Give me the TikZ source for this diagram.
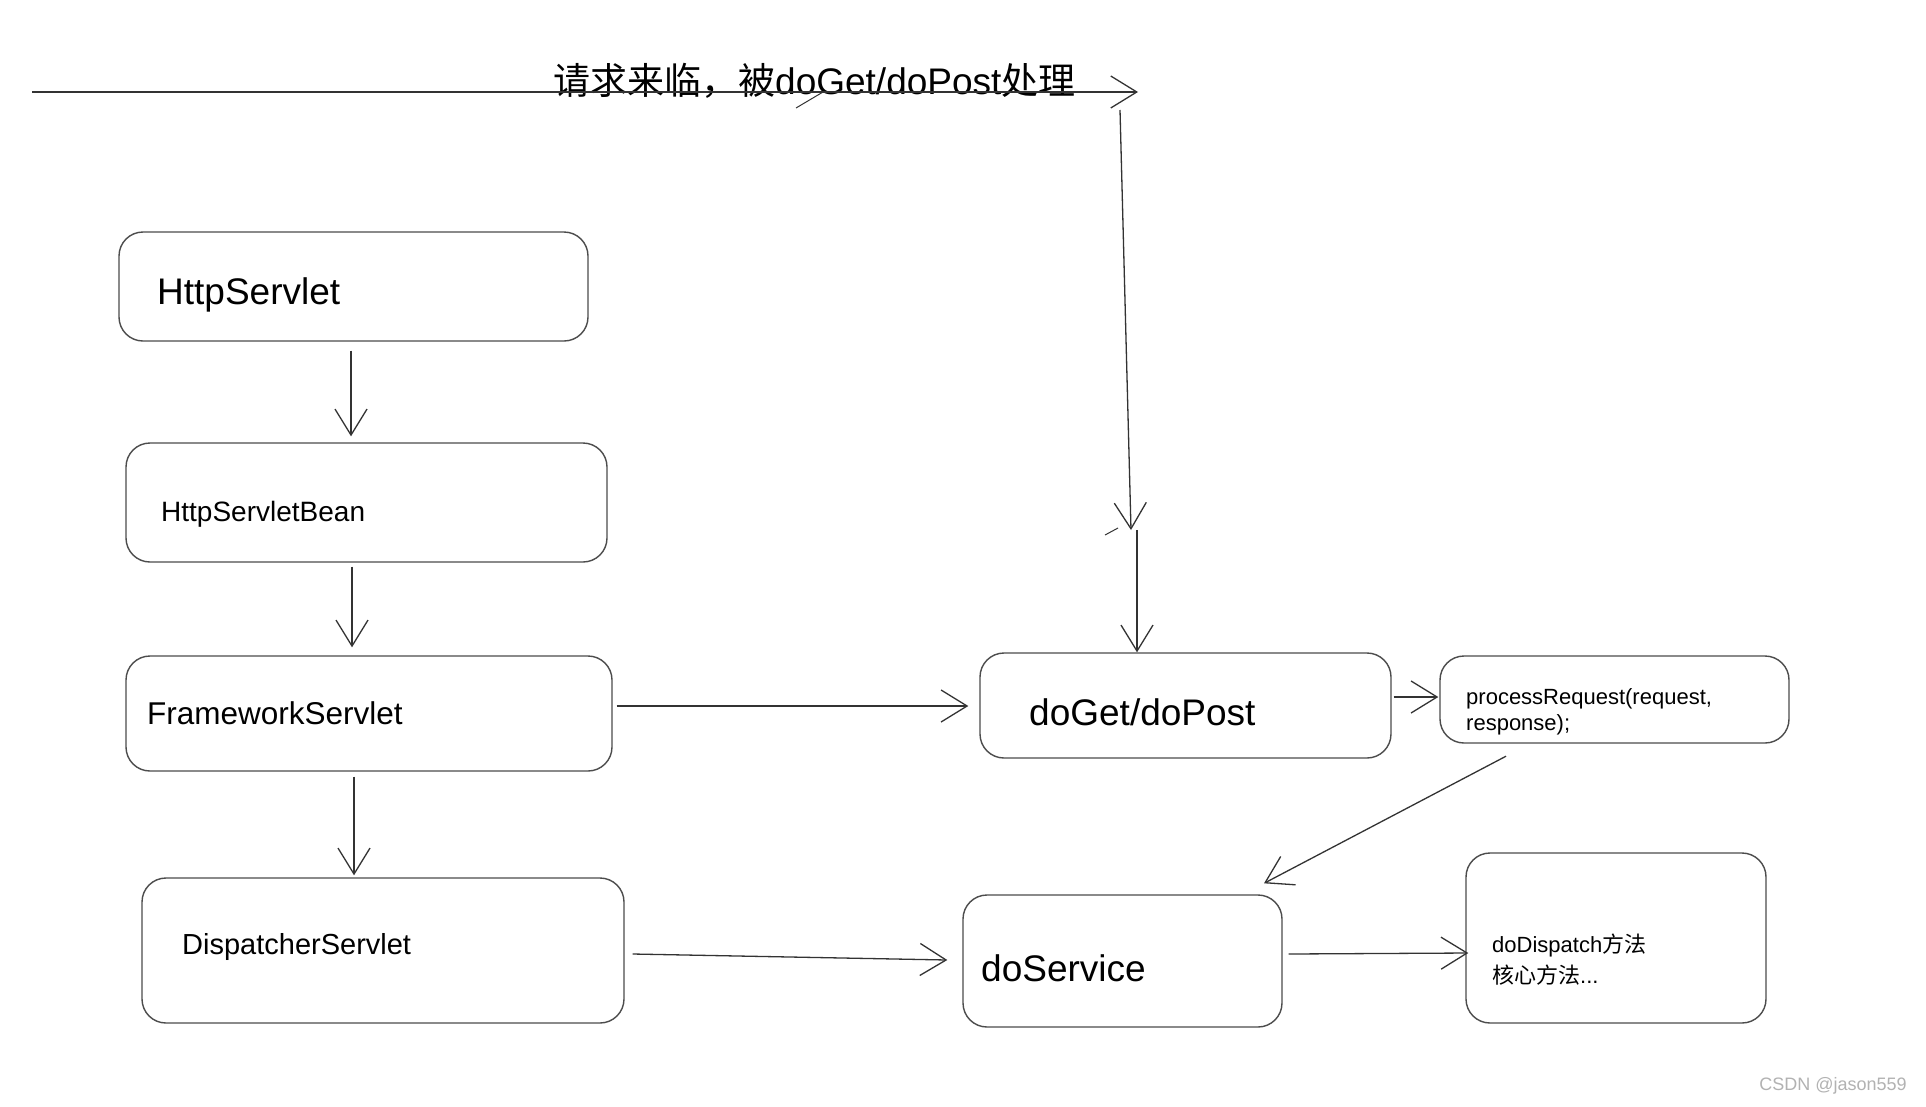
\documentclass[tikz,border=0pt]{standalone}
\usepackage{fontspec}
\setmainfont{Liberation Sans}
\newfontfamily\cjk{Noto Sans CJK SC}
\usetikzlibrary{arrows.meta,calc}
\tikzset{
  box/.style={draw=black!70, line width=1.4pt, rounded corners=24pt, inner sep=0pt, fill=white},
  lbl/.style={anchor=base west, inner sep=0pt, text=black},
  arr/.style={draw=black!80, line width=1.3pt, -{Straight Barb[length=26pt,width=32pt]}},
  ln/.style={draw=black!80, line width=1.3pt},
}
\newcommand{\fs}[1]{\fontsize{#1}{#1}\selectfont}
\begin{document}
\begin{tikzpicture}[x=1pt,y=-1pt]
\useasboundingbox (0,0) rectangle (1926,1106);
\fill[white] (0,0) rectangle (1926,1106);

% boxes
\node[box, minimum width=469pt, minimum height=109pt] (hs)  at (353.5,286.5) {};
\node[box, minimum width=481pt, minimum height=119pt] (hsb) at (366.5,502.5) {};
\node[box, minimum width=486pt, minimum height=115pt] (fs)  at (369,713.5) {};
\node[box, minimum width=482pt, minimum height=145pt] (ds)  at (383,950.5) {};
\node[box, minimum width=411pt, minimum height=105pt] (dg)  at (1185.5,705.5) {};
\node[box, minimum width=349pt, minimum height=87pt]  (pr)  at (1614.5,699.5) {};
\node[box, minimum width=319pt, minimum height=132pt] (dsv) at (1122.5,961) {};
\node[box, minimum width=300pt, minimum height=170pt] (dd)  at (1616,938) {};

% labels
\node[lbl, font=\fs{37}] (hsT)  at (157,304) {HttpServlet};
\node[lbl, font=\fs{28}] (hsbT) at (161,521) {HttpServletBean};
\node[lbl, font=\fs{31.5}] (fsT) at (147,724) {FrameworkServlet};
\node[lbl, font=\fs{29}] (dsT)  at (182,954) {DispatcherServlet};
\node[lbl, font=\fs{37}] (dgT)  at (1029,725) {doGet/doPost};
\node[lbl, font=\fs{37}] (dsvT) at (981,981) {doService};
\node[lbl, font=\fs{22}] (prT1) at (1466,704) {processRequest(request,};
\node[lbl, font=\fs{22}] (prT2) at (1466,730) {response);};
\node[lbl, font=\fs{22}] (ddT1) at (1492,952) {doDispatch{\cjk 方法}};
\node[lbl, font=\fs{22}] (ddT2) at (1492,983) {{\cjk 核心方法}...};

% top request line
\node[lbl, font=\fs{37}] (req) at (553,94) {{\cjk 请求来临，被}doGet/doPost{\cjk 处理}};
\coordinate (src) at (32,92);
\coordinate (reqEnd) at (1138,92);
\coordinate (vTop) at (1120,110);
\coordinate (vMid) at (1131,530);
\coordinate (vMid2) at (1137,530);
\draw[arr] (src) -- (reqEnd);
\draw[ln, line width=1pt] (796,108) -- (823,92);
\draw[arr] (vTop) -- (vMid);
\draw[ln, line width=1pt] (1105,535) -- (1118,528);
\draw[arr] (vMid2) -- (vMid2 |- dg.north);

% connectors between boxes
\draw[arr] ($(hs.south)+(-2.5,9)$) -- ($(hsb.north)+(-15.5,-6)$);
\draw[arr] ($(hsb.south)+(-14.5,4)$) -- ($(fs.north)+(-17,-8)$);
\draw[arr] ($(fs.south)+(-15,5)$) -- ($(ds.north)+(-29,-2)$);
\draw[arr] ($(fs.east)+(4,-7.5)$) -- ($(dg.west)+(-11,0.5)$);
\draw[arr] ($(ds.east)+(8,3.5)$) -- ($(dsv.west)+(-15,-1)$);
\draw[arr] ($(dg.east)+(2,-8.5)$) -- ($(pr.west)+(-1,-2.5)$);
\draw[arr] ($(pr.south)+(-108.5,12.5)$) -- ($(dsv.north)+(141.5,-11)$);
\draw[arr] ($(dsv.east)+(6,-7)$) -- ($(dd.west)+(3,15)$);

% watermark
\node[font=\fs{18}, text=black!30, inner sep=0pt] (wm) at (1833,1086) {CSDN @jason559};
\end{tikzpicture}
\end{document}
